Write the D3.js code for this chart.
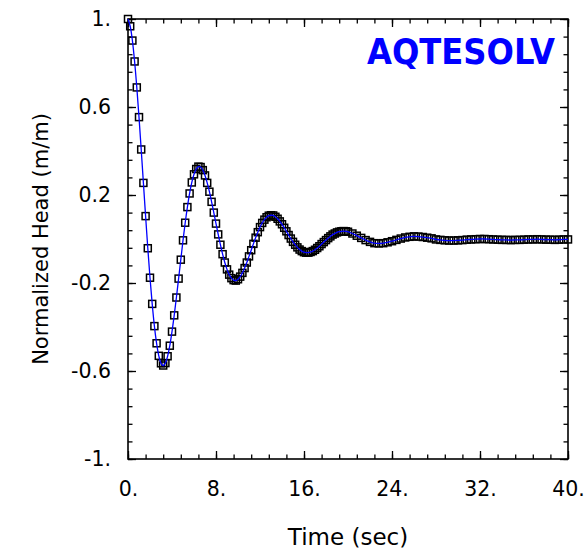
<!DOCTYPE html>
<html>
<head>
<meta charset="utf-8">
<script src="https://cdn.jsdelivr.net/npm/d3@7"></script>
<style>
  body { margin: 0; background: #fff; }
  text { font-family: "DejaVu Sans", sans-serif; fill: #000; }
</style>
</head>
<body>
<div id="container"></div>
<script>
// Observation times (sec)
const timeSec = [
  0, 0.2, 0.4, 0.6, 0.8, 1.0, 1.2, 1.4, 1.6, 1.8, 2.0, 2.2, 2.4, 2.6, 2.8, 3.0, 3.2, 3.4, 3.6, 3.8,
  4.0, 4.2, 4.4, 4.6, 4.8, 5.0, 5.2, 5.4, 5.6, 5.8, 6.0, 6.2, 6.4, 6.6, 6.8, 7.0, 7.2, 7.4, 7.6, 7.8,
  8.0, 8.2, 8.4, 8.6, 8.8, 9.0, 9.2, 9.4, 9.6, 9.8, 10.0, 10.2, 10.4, 10.6, 10.8, 11.0, 11.2, 11.4, 11.6, 11.8,
  12.0, 12.2, 12.4, 12.6, 12.8, 13.0, 13.2, 13.4, 13.6, 13.8, 14.0, 14.2, 14.4, 14.6, 14.8, 15.0, 15.2, 15.4, 15.6, 15.8,
  16.0, 16.2, 16.4, 16.6, 16.8, 17.0, 17.2, 17.4, 17.6, 17.8, 18.0, 18.2, 18.4, 18.6, 18.8, 19.0, 19.2, 19.4, 19.6, 19.8,
  20.0, 20.4, 20.8, 21.2, 21.6, 22.0, 22.4, 22.8, 23.2, 23.6, 24.0, 24.4, 24.8, 25.2, 25.6, 26.0, 26.4, 26.8, 27.2, 27.6,
  28.0, 28.4, 28.8, 29.2, 29.6, 30.0, 30.4, 30.8, 31.2, 31.6, 32.0, 32.4, 32.8, 33.2, 33.6, 34.0, 34.4, 34.8, 35.2, 35.6,
  36.0, 36.4, 36.8, 37.2, 37.6, 38.0, 38.4, 38.8, 39.2, 39.6, 40.0
];

// Normalized head (m/m)
const headObs = [
  1.000, 0.967, 0.902, 0.807, 0.689, 0.554, 0.407, 0.255, 0.104, -0.042, -0.176, -0.295, -0.396, -0.474, -0.531, -0.565, -0.575, -0.564, -0.533, -0.485,
  -0.421, -0.347, -0.266, -0.180, -0.094, -0.006, 0.074, 0.145, 0.207, 0.257, 0.294, 0.318, 0.329, 0.327, 0.313, 0.289, 0.255, 0.215, 0.169, 0.120,
  0.070, 0.021, -0.026, -0.069, -0.107, -0.138, -0.162, -0.178, -0.187, -0.189, -0.183, -0.171, -0.154, -0.132, -0.107, -0.079, -0.051, -0.022, 0.006, 0.031,
  0.054, 0.073, 0.088, 0.099, 0.106, 0.108, 0.107, 0.101, 0.092, 0.080, 0.067, 0.051, 0.035, 0.018, 0.002, -0.013, -0.026, -0.038, -0.048, -0.055,
  -0.060, -0.062, -0.062, -0.059, -0.055, -0.049, -0.041, -0.033, -0.023, -0.014, -0.005, 0.004, 0.012, 0.020, 0.025, 0.030, 0.033, 0.035, 0.036, 0.035,
  0.033, 0.025, 0.015, 0.005, -0.005, -0.013, -0.019, -0.020, -0.019, -0.015, -0.010, -0.004, 0.002, 0.007, 0.010, 0.012, 0.011, 0.009, 0.006, 0.003,
  -0.002, -0.004, -0.006, -0.007, -0.007, -0.006, -0.005, -0.003, -0.002, -0.001, 0.000, 0.000, -0.001, -0.002, -0.003, -0.004, -0.004, -0.005, -0.004, -0.004,
  -0.003, -0.002, -0.002, -0.001, -0.002, -0.003, -0.003, -0.004, -0.003, -0.002, -0.002
];

const xTicks = [0, 8, 16, 24, 32, 40];
const xTickLabels = ["0.", "8.", "16.", "24.", "32.", "40."];
const yTicks = [1, 0.6, 0.2, -0.2, -0.6, -1];
const yTickLabels = ["1.", "0.6", "0.2", "-0.2", "-0.6", "-1."];

const width = 587;
const height = 550;
const margin = { top: 19, right: 19, bottom: 91, left: 128 };
const w = width - margin.left - margin.right;
const h = height - margin.top - margin.bottom;

const data = timeSec.map((t, i) => ({ t: t, v: headObs[i] }));

const x = d3.scaleLinear().domain([0, 40]).range([0, w]);
const y = d3.scaleLinear().domain([-1, 1]).range([h, 0]);

const svg = d3.select("#container").append("svg")
    .attr("width", width)
    .attr("height", height)
    .style("background", "#fff");

const g = svg.append("g")
    .attr("transform", `translate(${margin.left},${margin.top})`);

// minor ticks (inward, all four sides)
const xMinor = d3.range(0, 40.001, 1.6);
const yMinor = d3.range(-1, 1.001, 0.08);

function styleAxis(sel) {
    sel.select(".domain").remove();
    sel.selectAll(".tick line").attr("stroke", "#000").attr("stroke-width", 1.3);
}

g.append("g").attr("transform", `translate(0,${h})`)
    .call(d3.axisBottom(x).tickValues(xMinor).tickSize(-4.5).tickFormat(""))
    .call(styleAxis);
g.append("g")
    .call(d3.axisTop(x).tickValues(xMinor).tickSize(-4.5).tickFormat(""))
    .call(styleAxis);
g.append("g")
    .call(d3.axisLeft(y).tickValues(yMinor).tickSize(-4.5).tickFormat(""))
    .call(styleAxis);
g.append("g").attr("transform", `translate(${w},0)`)
    .call(d3.axisRight(y).tickValues(yMinor).tickSize(-4.5).tickFormat(""))
    .call(styleAxis);

// major ticks with labels
g.append("g").attr("transform", `translate(0,${h})`)
    .call(d3.axisBottom(x).tickValues(xTicks).tickSize(-8).tickPadding(22)
        .tickFormat((d, i) => xTickLabels[i]))
    .call(styleAxis)
    .selectAll("text").attr("font-size", 20.5).attr("font-family", "DejaVu Sans").attr("fill", "#000");
g.append("g")
    .call(d3.axisTop(x).tickValues(xTicks).tickSize(-8).tickFormat(""))
    .call(styleAxis);
g.append("g")
    .call(d3.axisLeft(y).tickValues(yTicks).tickSize(-8).tickPadding(17)
        .tickFormat((d, i) => yTickLabels[i]))
    .call(styleAxis)
    .selectAll("text").attr("font-size", 20.5).attr("font-family", "DejaVu Sans").attr("fill", "#000");
g.append("g").attr("transform", `translate(${w},0)`)
    .call(d3.axisRight(y).tickValues(yTicks).tickSize(-8).tickFormat(""))
    .call(styleAxis);

// frame
g.append("rect")
    .attr("width", w)
    .attr("height", h)
    .attr("fill", "none")
    .attr("stroke", "#000")
    .attr("stroke-width", 1.6);

// observation markers (open squares)
const s = 7;
g.append("g")
    .selectAll("rect")
    .data(data)
    .join("rect")
    .attr("x", d => x(d.t) - s / 2)
    .attr("y", d => y(d.v) - s / 2)
    .attr("width", s)
    .attr("height", s)
    .attr("fill", "none")
    .attr("stroke", "#000")
    .attr("stroke-width", 1.5);

// fitted curve
const line = d3.line()
    .x(d => x(d.t))
    .y(d => y(d.v))
    .curve(d3.curveCatmullRom);

g.append("path")
    .datum(data)
    .attr("d", line)
    .attr("fill", "none")
    .attr("stroke", "#0000ff")
    .attr("stroke-width", 1.3);

// logo
g.append("text")
    .attr("x", 239)
    .attr("y", 45)
    .attr("font-size", 36)
    .attr("font-weight", "bold")
    .attr("textLength", 188)
    .attr("lengthAdjust", "spacingAndGlyphs")
    .style("fill", "#0000ff")
    .text("AQTESOLV");

// axis titles
svg.append("text")
    .attr("x", margin.left + w / 2)
    .attr("y", 545)
    .attr("text-anchor", "middle")
    .attr("font-size", 23)
    .text("Time (sec)");

svg.append("text")
    .attr("transform", `translate(48,${margin.top + h / 2}) rotate(-90)`)
    .attr("text-anchor", "middle")
    .attr("font-size", 21)
    .text("Normalized Head (m/m)");
</script>
</body>
</html>
